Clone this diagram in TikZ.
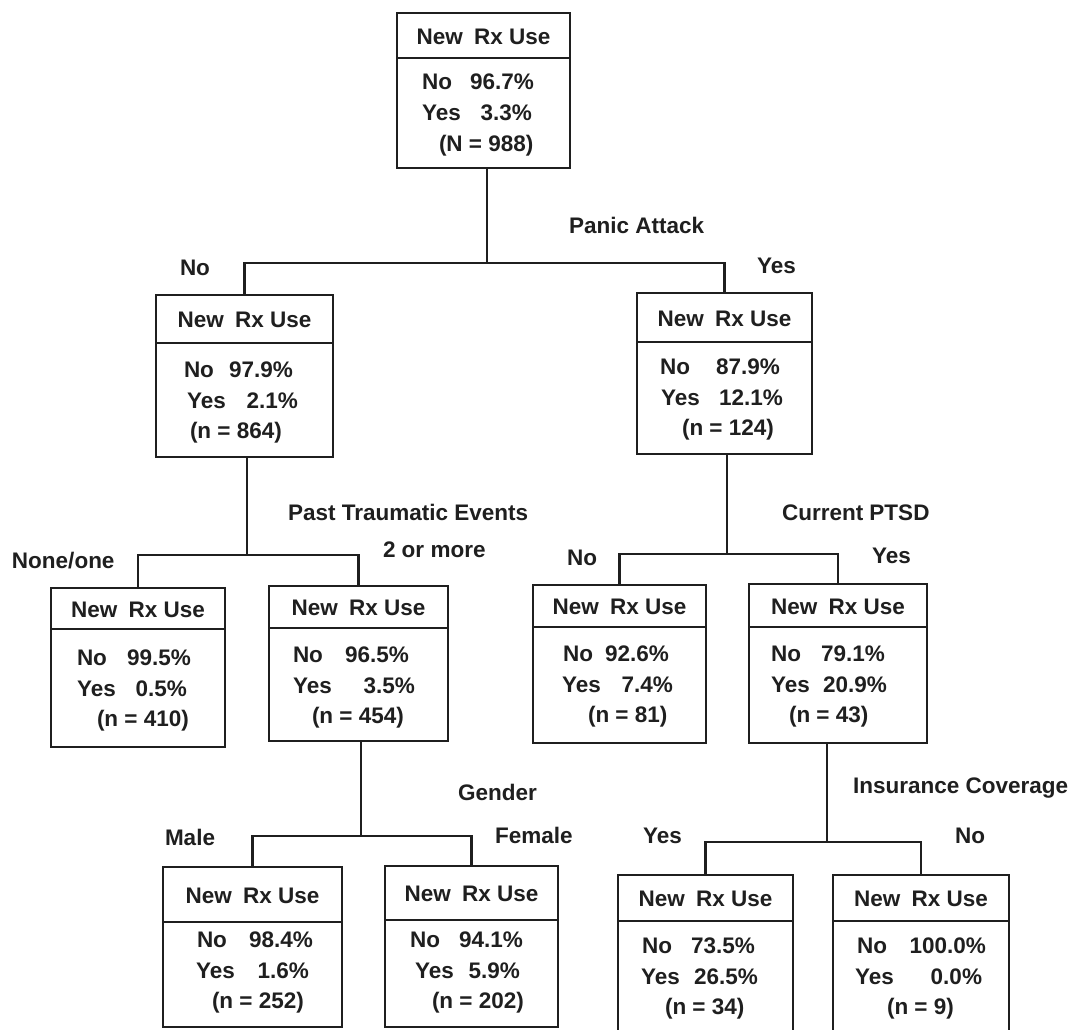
\documentclass[tikz,border=0pt]{standalone}
\usepackage{fontspec}
\setmainfont{Liberation Sans}
\begin{document}
\begin{tikzpicture}[x=1pt,y=-1pt,
  ln/.style={line width=2.3pt,draw=black!88},
  box/.style={draw=black!88,line width=2.3pt,rectangle,inner sep=0pt,outer sep=0pt},
  txt/.style={inner sep=0pt,outer sep=0pt,text=black!88,font=\fontsize{22.5}{26}\selectfont\bfseries}]
\useasboundingbox (0,0) rectangle (1076,1030);
\clip (0,0) rectangle (1076,1030);
\newcommand\tbox[6]{%
  \node[box,minimum width={#4-#2},minimum height={#6-#3}] (#1) at ({(#2+#4)/2},{(#3+#6)/2}) {};
  \draw[ln] (#2,#5) -- (#4,#5);
  \node[txt] (#1-h) at ({(#2+#4)/2},{(#3+#5)/2+1}) {New\hspace{0.5em}Rx Use};}
\newcommand\tbody[8]{%
  \node[txt,anchor=base west] (#1-a) at (#3,#2) {No};
  \node[txt,anchor=base east] (#1-b) at (#4,#2) {#5\%};
  \node[txt,anchor=base west] (#1-c) at (#6,#2+31) {Yes};
  \node[txt,anchor=base east] (#1-d) at (#7,#2+31) {#8\%};}
\newcommand\tcount[4]{%
  \node[txt,anchor=base west] (#1-e) at (#3,#2+61) {#4};}
\newcommand\lab[4]{%
  \node[txt,anchor=base west] (#1) at (#2,#3) {#4};}
% boxes
\tbox{root}{397}{13}{570}{58}{168}
\tbody{root}{90}{422}{534}{96.7}{422}{532}{3.3}
\tcount{root}{90}{439}{(N = 988)}
\tbox{nA}{156}{295}{333}{343}{457}
\tbody{nA}{377}{184}{293}{97.9}{187}{298}{2.1}
\tcount{nA}{377}{190}{(n = 864)}
\tbox{yA}{637}{293}{812}{342}{454}
\tbody{yA}{374}{660}{780}{87.9}{661}{783}{12.1}
\tcount{yA}{374}{682}{(n = 124)}
\tbox{n1}{51}{588}{225}{629}{747}
\tbody{n1}{665}{77}{191}{99.5}{77}{187}{0.5}
\tcount{n1}{665}{97}{(n = 410)}
\tbox{n2}{269}{586}{448}{628}{741}
\tbody{n2}{662}{293}{409}{96.5}{293}{415}{3.5}
\tcount{n2}{662}{312}{(n = 454)}
\tbox{p1}{533}{585}{706}{627}{743}
\tbody{p1}{661}{563}{669}{92.6}{562}{673}{7.4}
\tcount{p1}{661}{588}{(n = 81)}
\tbox{p2}{749}{584}{927}{627}{743}
\tbody{p2}{661}{771}{885}{79.1}{771}{887}{20.9}
\tcount{p2}{661}{789}{(n = 43)}
\tbox{m}{163}{867}{342}{922}{1027}
\tbody{m}{947}{197}{313}{98.4}{196}{309}{1.6}
\tcount{m}{947}{212}{(n = 252)}
\tbox{f}{385}{866}{558}{920}{1027}
\tbody{f}{947}{410}{523}{94.1}{415}{520}{5.9}
\tcount{f}{947}{432}{(n = 202)}
\tbox{i1}{618}{875}{793}{921}{1045}
\tbody{i1}{953}{642}{755}{73.5}{641}{758}{26.5}
\tcount{i1}{953}{665}{(n = 34)}
\tbox{i2}{833}{875}{1009}{921}{1045}
\tbody{i2}{953}{857}{986}{100.0}{855}{982}{0.0}
\tcount{i2}{953}{887}{(n = 9)}
% connectors
\coordinate (j0) at (487,263);
\coordinate (j1) at (247,555);
\coordinate (j2) at (727,554);
\coordinate (j3) at (361,836);
\coordinate (j4) at (827,842);
\draw[ln] (j0 |- root.south) -- (j0);
\draw[ln] (nA.north) |- (j0) -| (yA.north);
\draw[ln] (j1 |- nA.south) -- (j1);
\draw[ln] (n1.north) |- (j1) -| (n2.north);
\draw[ln] (j2 |- yA.south) -- (j2);
\draw[ln] (p1.north) |- (j2) -| (p2.north);
\draw[ln] (j3 |- n2.south) -- (j3);
\draw[ln] (m.north) |- (j3) -| (f.north);
\draw[ln] (j4 |- p2.south) -- (j4);
\draw[ln] (i1.north) |- (j4) -| (i2.north);
% labels
\lab{lPanic}{569}{233}{Panic Attack}
\lab{lNo0}{180}{275}{No}
\lab{lYes0}{757}{273}{Yes}
\lab{lPast}{288}{520}{Past Traumatic Events}
\lab{lNone}{12}{568}{None/one}
\lab{lTwo}{383}{557}{2 or more}
\lab{lPTSD}{782}{520}{Current PTSD}
\lab{lNo1}{567}{565}{No}
\lab{lYes1}{872}{563}{Yes}
\lab{lGender}{458}{800}{Gender}
\lab{lMale}{165}{845}{Male}
\lab{lFemale}{495}{843}{Female}
\lab{lIns}{853}{793}{Insurance Coverage}
\lab{lYes2}{643}{843}{Yes}
\lab{lNo2}{955}{843}{No}
\end{tikzpicture}
\end{document}
